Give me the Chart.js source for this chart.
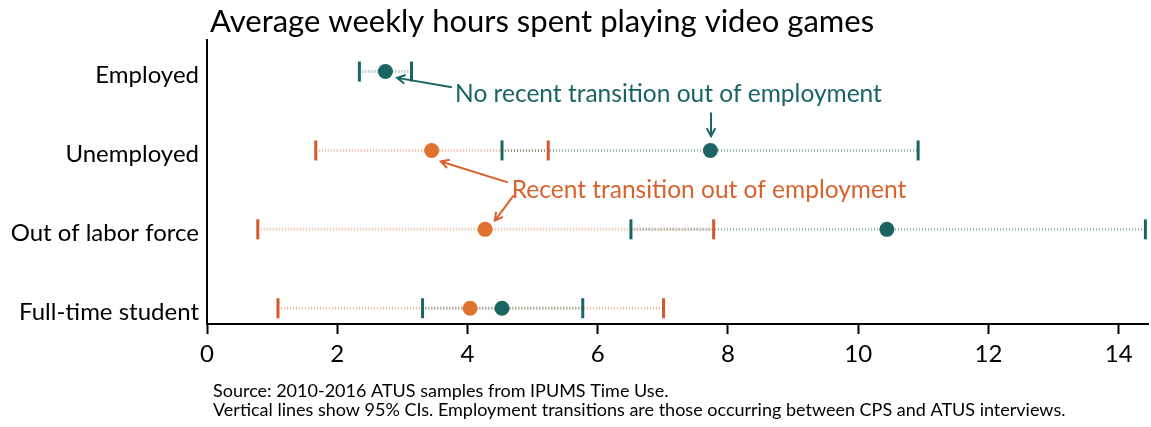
<!DOCTYPE html>
<html>
<head>
<meta charset="utf-8">
<script src="https://cdn.jsdelivr.net/npm/chart.js@4.4.0/dist/chart.umd.min.js"></script>
<style>
  html, body { margin: 0; padding: 0; background: #fff; }
  #wrap { width: 1151px; height: 427px; }
</style>
</head>
<body>
<div id="wrap"><canvas id="myChart"></canvas></div>
<script>
// categories (top to bottom)
const categories = ["Employed", "Unemployed", "Out of labor force", "Full-time student"];
const xTicks = [0, 2, 4, 6, 8, 10, 12, 14];

// no recent transition out of employment (teal)
const noTransMean = [2.74, 7.73, 10.44, 4.53];
const noTransLow = [2.34, 4.53, 6.51, 3.31];
const noTransHigh = [3.14, 10.92, 14.41, 5.77];

// recent transition out of employment (orange), none for Employed
const transMean = [null, 3.45, 4.27, 4.04];
const transLow = [null, 1.67, 0.78, 1.09];
const transHigh = [null, 5.24, 7.78, 7.01];

const teal = "#1b6464";
const tealLight = "rgba(27, 100, 100, 0.45)";
const orange = "#e0712f";
const orangeTick = "#d4582a";
const orangeLight = "rgba(224, 113, 47, 0.45)";
const fontName = "Lato, 'Open Sans', sans-serif";

// annotation labels and arrows, in data units
const labels = [
  { text: "No recent transition out of employment", x: 3.81, y: 0.28, color: teal },
  { text: "Recent transition out of employment", x: 4.68, y: 1.5, color: "#d9622c" },
];
const arrows = [
  { from: [3.76, 0.2], to: [2.92, 0.08], color: teal },
  { from: [7.74, 0.52], to: [7.74, 0.82], color: teal },
  { from: [4.62, 1.405], to: [3.59, 1.14], color: "#d9622c" },
  { from: [4.71, 1.57], to: [4.42, 1.89], color: "#d9622c" },
];

function pts(values) {
  const out = [];
  values.forEach((v, i) => { if (v !== null) out.push({ x: v, y: i }); });
  return out;
}

const datasets = [];
// dots on top
datasets.push({ type: "scatter", data: pts(noTransMean), backgroundColor: teal, borderWidth: 0, pointRadius: 7.5, order: 0, clip: false });
datasets.push({ type: "scatter", data: pts(transMean), backgroundColor: orange, borderWidth: 0, pointRadius: 7.5, order: 0, clip: false });
// CI ticks
datasets.push({ type: "scatter", data: pts(noTransLow).concat(pts(noTransHigh)), pointStyle: "line", rotation: 90, pointRadius: 10, borderColor: teal, borderWidth: 3, order: 1, clip: false });
datasets.push({ type: "scatter", data: pts(transLow).concat(pts(transHigh)), pointStyle: "line", rotation: 90, pointRadius: 10, borderColor: orangeTick, borderWidth: 3, order: 1, clip: false });
// dotted CI ranges
categories.forEach((c, i) => {
  datasets.push({ type: "line", data: [{ x: noTransLow[i], y: i }, { x: noTransHigh[i], y: i }], borderColor: tealLight, borderWidth: 3, borderDash: [1, 2], pointRadius: 0, order: 2, clip: false });
  if (transLow[i] !== null) {
    datasets.push({ type: "line", data: [{ x: transLow[i], y: i }, { x: transHigh[i], y: i }], borderColor: orangeLight, borderWidth: 3, borderDash: [1, 2], pointRadius: 0, order: 2, clip: false });
  }
});

function drawArrow(ctx, x1, y1, x2, y2, color) {
  const ang = Math.atan2(y2 - y1, x2 - x1);
  const h = 9;
  ctx.save();
  ctx.strokeStyle = color;
  ctx.lineWidth = 2;
  ctx.beginPath();
  ctx.moveTo(x1, y1);
  ctx.lineTo(x2, y2);
  ctx.moveTo(x2 - h * Math.cos(ang - 0.5), y2 - h * Math.sin(ang - 0.5));
  ctx.lineTo(x2, y2);
  ctx.lineTo(x2 - h * Math.cos(ang + 0.5), y2 - h * Math.sin(ang + 0.5));
  ctx.stroke();
  ctx.restore();
}

const textPlugin = {
  id: "texts",
  afterDraw(chart) {
    const ctx = chart.ctx;
    const xs = chart.scales.x, ys = chart.scales.y;
    ctx.save();
    // title
    ctx.fillStyle = "#000";
    ctx.font = "31px " + fontName;
    ctx.textAlign = "left";
    ctx.textBaseline = "middle";
    ctx.fillText("Average weekly hours spent playing video games", 210, 22);
    // notes
    ctx.font = "18px " + fontName;
    ctx.fillText("Source: 2010-2016 ATUS samples from IPUMS Time Use.", 213, 391);
    ctx.fillText("Vertical lines show 95% CIs. Employment transitions are those occurring between CPS and ATUS interviews.", 213, 410);
    // annotations
    ctx.font = "24.5px " + fontName;
    labels.forEach((l) => {
      ctx.fillStyle = l.color;
      ctx.fillText(l.text, xs.getPixelForValue(l.x), ys.getPixelForValue(l.y));
    });
    ctx.restore();
    arrows.forEach((a) => {
      drawArrow(ctx, xs.getPixelForValue(a.from[0]), ys.getPixelForValue(a.from[1]),
        xs.getPixelForValue(a.to[0]), ys.getPixelForValue(a.to[1]), a.color);
    });
  },
};

const ctx = document.getElementById("myChart").getContext("2d");
const myChart = new Chart(ctx, {
  data: { datasets: datasets },
  options: {
    responsive: true,
    maintainAspectRatio: false,
    animation: false,
    layout: { autoPadding: false, padding: { top: 40, right: 3, bottom: 0, left: 0 } },
    plugins: { legend: { display: false }, tooltip: { enabled: false } },
    scales: {
      x: {
        type: "linear",
        min: 0,
        max: 14.45,
        afterBuildTicks: (scale) => { scale.ticks = xTicks.map((v) => ({ value: v })); },
        afterFit: (scale) => { scale.height = 103; scale.paddingRight = 0; scale.paddingLeft = 0; },
        grid: { drawOnChartArea: false, drawTicks: true, tickLength: 10, color: "#000", tickWidth: 2 },
        border: { display: true, color: "#000", width: 2 },
        ticks: { color: "#000", font: { family: fontName, size: 24 }, padding: 6, maxRotation: 0 },
      },
      y: {
        type: "linear",
        min: -0.4,
        max: 3.2,
        reverse: true,
        afterBuildTicks: (scale) => { scale.ticks = categories.map((c, i) => ({ value: i })); },
        afterFit: (scale) => { scale.width = 207; },
        grid: { display: false, drawTicks: false },
        border: { display: true, color: "#000", width: 2 },
        ticks: {
          color: "#000",
          font: { family: fontName, size: 24 },
          padding: 8,
          labelOffset: 4,
          callback: (v) => categories[v],
        },
      },
    },
  },
  plugins: [textPlugin],
});
</script>
</body>
</html>
